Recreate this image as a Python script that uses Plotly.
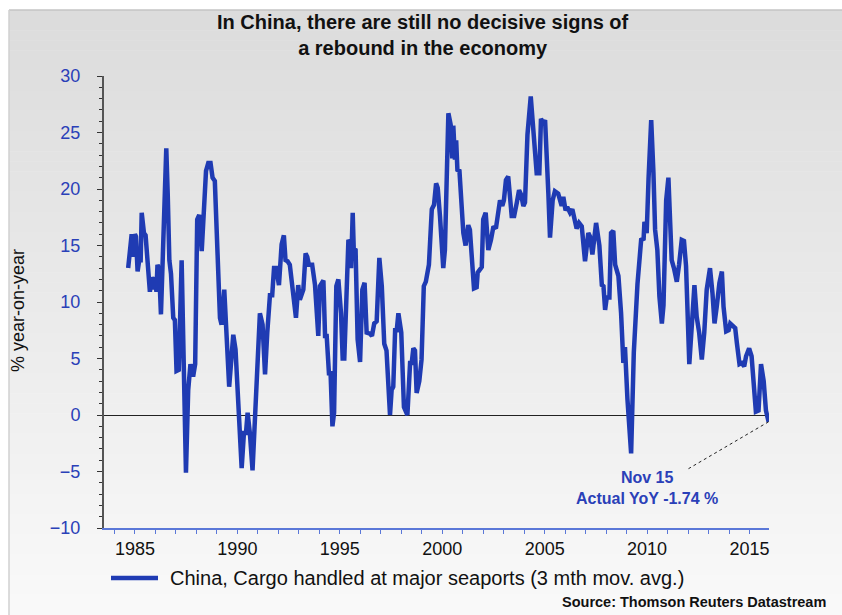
import plotly.graph_objects as go

# China, cargo handled at major seaports, % y/y (3 month moving average), decimal year
years = [
    1984.67, 1984.72, 1984.84, 1984.92, 1985.00, 1985.05, 1985.13, 1985.21, 1985.28, 1985.33,
    1985.44, 1985.52, 1985.62, 1985.73, 1985.81, 1985.89, 1985.97, 1986.05, 1986.10, 1986.18,
    1986.27, 1986.37, 1986.53, 1986.60, 1986.68, 1986.76, 1986.87, 1986.95, 1987.03, 1987.14,
    1987.28, 1987.49, 1987.60, 1987.71, 1987.84, 1987.94, 1988.04, 1988.14, 1988.26, 1988.47,
    1988.58, 1988.69, 1988.79, 1988.90, 1989.15, 1989.23, 1989.36, 1989.60, 1989.80, 1989.91,
    1990.21, 1990.32, 1990.42, 1990.50, 1990.61, 1990.74, 1990.90, 1991.10, 1991.23, 1991.35,
    1991.46, 1991.59, 1991.70, 1991.79, 1991.89, 1992.03, 1992.16, 1992.27, 1992.35, 1992.45,
    1992.56, 1992.72, 1992.86, 1992.97, 1993.05, 1993.22, 1993.33, 1993.41, 1993.49, 1993.65,
    1993.79, 1993.95, 1994.03, 1994.20, 1994.28, 1994.36, 1994.47, 1994.55, 1994.64, 1994.72,
    1994.83, 1994.93, 1995.06, 1995.14, 1995.22, 1995.42, 1995.49, 1995.55, 1995.63, 1995.68,
    1995.77, 1995.87, 1995.99, 1996.10, 1996.21, 1996.31, 1996.47, 1996.57, 1996.68, 1996.80,
    1996.93, 1997.05, 1997.17, 1997.28, 1997.45, 1997.53, 1997.61, 1997.70, 1997.78, 1997.86,
    1998.00, 1998.13, 1998.30, 1998.43, 1998.51, 1998.59, 1998.67, 1998.75, 1998.88, 1998.99,
    1999.10, 1999.20, 1999.27, 1999.35, 1999.49, 1999.60, 1999.70, 1999.78, 1999.89, 2000.05,
    2000.13, 2000.30, 2000.41, 2000.49, 2000.54, 2000.62, 2000.68, 2000.74, 2000.84, 2001.03,
    2001.14, 2001.27, 2001.35, 2001.47, 2001.55, 2001.68, 2001.73, 2001.93, 2002.00, 2002.12,
    2002.25, 2002.38, 2002.50, 2002.62, 2002.74, 2002.82, 2002.93, 2003.01, 2003.11, 2003.22,
    2003.39, 2003.51, 2003.64, 2003.75, 2003.85, 2003.96, 2004.04, 2004.16, 2004.32, 2004.45,
    2004.61, 2004.74, 2004.82, 2004.94, 2005.02, 2005.18, 2005.26, 2005.39, 2005.50, 2005.66,
    2005.83, 2005.91, 2006.02, 2006.10, 2006.24, 2006.35, 2006.48, 2006.56, 2006.68, 2006.81,
    2006.97, 2007.13, 2007.21, 2007.33, 2007.51, 2007.67, 2007.79, 2007.87, 2007.95, 2008.03,
    2008.16, 2008.24, 2008.35, 2008.44, 2008.60, 2008.73, 2008.84, 2008.92, 2009.04, 2009.22,
    2009.35, 2009.53, 2009.71, 2009.83, 2009.87, 2009.98, 2010.07, 2010.20, 2010.31, 2010.39,
    2010.50, 2010.60, 2010.72, 2010.80, 2010.93, 2011.04, 2011.12, 2011.20, 2011.31, 2011.45,
    2011.56, 2011.69, 2011.80, 2011.90, 2012.06, 2012.18, 2012.31, 2012.42, 2012.54, 2012.67,
    2012.79, 2012.91, 2013.07, 2013.19, 2013.29, 2013.40, 2013.53, 2013.65, 2013.73, 2013.86,
    2013.98, 2014.06, 2014.19, 2014.30, 2014.38, 2014.51, 2014.62, 2014.74, 2014.83, 2014.98,
    2015.10, 2015.20, 2015.31, 2015.44, 2015.56, 2015.69, 2015.80, 2015.93,
]
cargo_yoy = [
    13.0, 14.0, 16.0, 14.0, 16.0, 15.8, 12.7, 13.7, 13.7, 17.9,
    16.1, 15.9, 13.0, 10.9, 12.2, 11.1, 12.2, 10.9, 13.3, 12.9,
    8.9, 14.6, 23.6, 19.6, 13.7, 12.5, 8.6, 8.4, 3.9, 4.0,
    13.7, -5.1, 2.2, 4.5, 3.4, 4.5, 17.3, 17.7, 14.5, 21.6,
    22.3, 22.3, 21.0, 20.7, 8.6, 8.0, 11.1, 2.5, 7.1, 5.8,
    -4.7, -1.6, -1.6, 0.2, -1.6, -4.9, 1.0, 9.0, 8.0, 3.6,
    7.3, 10.6, 10.6, 13.0, 13.0, 11.5, 15.1, 15.9, 13.7, 13.6,
    13.3, 10.8, 8.6, 11.5, 10.2, 11.1, 14.3, 14.0, 13.3, 13.3,
    11.5, 7.0, 11.4, 11.9, 7.0, 7.0, 3.7, 3.7, -1.0, 0.2,
    11.4, 12.0, 9.0, 5.0, 5.0, 15.5, 15.3, 13.0, 17.9, 14.7,
    14.6, 6.7, 4.7, 11.1, 11.7, 7.3, 7.2, 7.0, 8.1, 8.3,
    13.9, 11.4, 6.3, 5.7, 0.0, 2.2, 2.5, 7.5, 7.5, 9.0,
    7.3, 0.7, 0.0, 4.6, 4.6, 5.9, 5.7, 1.95, 3.0, 4.9,
    11.4, 11.8, 12.6, 13.3, 18.2, 18.6, 20.5, 20.1, 17.6, 13.0,
    14.6, 26.7, 25.7, 22.7, 25.6, 22.6, 24.3, 21.7, 21.6, 16.1,
    15.0, 16.8, 16.4, 12.6, 11.2, 11.3, 12.6, 13.1, 17.3, 17.9,
    14.6, 15.5, 16.7, 16.5, 17.7, 19.0, 18.5, 19.0, 20.8, 21.1,
    17.6, 17.6, 18.8, 19.9, 19.5, 18.5, 18.8, 24.8, 28.2, 25.2,
    21.4, 21.4, 26.2, 25.8, 26.1, 19.6, 15.7, 19.0, 19.8, 19.6,
    18.5, 19.3, 18.1, 18.4, 17.9, 18.2, 17.2, 16.5, 17.0, 16.7,
    13.6, 16.1, 15.8, 14.2, 17.0, 15.0, 11.5, 11.4, 9.3, 10.4,
    10.4, 16.1, 16.3, 13.3, 12.3, 9.0, 4.6, 6.0, 1.4, -3.4,
    5.5, 11.6, 15.5, 15.6, 17.1, 16.1, 20.9, 26.1, 21.4, 16.4,
    14.6, 10.5, 8.1, 9.7, 19.0, 21.0, 17.3, 13.7, 13.0, 11.8,
    13.3, 15.5, 15.4, 13.2, 4.5, 8.4, 11.5, 8.7, 7.3, 4.9,
    7.3, 11.1, 13.0, 10.8, 8.1, 9.6, 11.7, 12.7, 9.6, 7.4,
    7.5, 8.1, 7.8, 7.7, 6.4, 4.5, 4.6, 4.3, 5.2, 5.9,
    5.2, 2.7, 0.3, 0.4, 4.5, 3.0, 0.4, -0.6,
]

x_ticks = [1985, 1990, 1995, 2000, 2005, 2010, 2015]
y_ticks = [-10, -5, 0, 5, 10, 15, 20, 25, 30]

title_text = "In China, there are still no decisive signs of<br>a rebound in the economy"
series_name = "China, Cargo handled at major seaports (3 mth mov. avg.)"
callout_text = "Nov 15<br>Actual YoY -1.74 %"
source_text = "Source: Thomson Reuters Datastream"

W, H = 842, 615
ML, MR, MT, MB = 104, 73, 76, 87
PW, PH = W - ML - MR, H - MT - MB

LINE_BLUE = "#1f3bb3"
TEXT_BLUE = "#2a40b8"


def px_x(p):
    """pixel column -> paper x"""
    return (p - ML) / PW


def px_y(p):
    """pixel row (from top) -> paper y"""
    return (H - MB - p) / PH


fig = go.Figure()
fig.add_trace(go.Scatter(
    x=years, y=cargo_yoy, mode="lines", name=series_name,
    line=dict(color=LINE_BLUE, width=4.5), showlegend=False,
))

shapes = []
# grey panel with a soft vertical gradient
top_px, bot_px, left_px = 10, H, 9
n_bands = 60
for i in range(n_bands):
    y0 = top_px + (bot_px - top_px) * i / n_bands
    y1 = top_px + (bot_px - top_px) * (i + 1) / n_bands
    t = i / (n_bands - 1)
    g = round(220 + (249 - 220) * t)
    shapes.append(dict(
        type="rect", xref="paper", yref="paper", layer="below",
        x0=px_x(left_px), x1=px_x(W + 2), y0=px_y(y1 + 0.5), y1=px_y(y0),
        fillcolor=f"rgb({g},{g},{g})", line=dict(width=0),
    ))
# panel edges
shapes.append(dict(type="line", xref="paper", yref="paper", layer="below",
                   x0=px_x(left_px), x1=px_x(W + 2), y0=px_y(top_px), y1=px_y(top_px),
                   line=dict(color="#c4c4c4", width=1.5)))
shapes.append(dict(type="line", xref="paper", yref="paper", layer="below",
                   x0=px_x(left_px), x1=px_x(left_px), y0=px_y(top_px), y1=px_y(H + 2),
                   line=dict(color="#d0d0d0", width=1.5)))

# dotted leader from the last observation to the callout
callout_x, callout_y = 2012.02, -4.75
shapes.append(dict(type="line", xref="x", yref="y",
                   x0=years[-1], y0=cargo_yoy[-1], x1=callout_x, y1=callout_y,
                   line=dict(color="#222222", width=1, dash="dot")))

# legend sample line
shapes.append(dict(type="line", xref="paper", yref="paper",
                   x0=px_x(111), x1=px_x(158), y0=px_y(578), y1=px_y(578),
                   line=dict(color=LINE_BLUE, width=4.5)))

annotations = [
    dict(text=title_text, xref="paper", yref="paper", x=px_x(423), y=px_y(35),
         xanchor="center", yanchor="middle", showarrow=False,
         font=dict(family="Liberation Sans, Arial", size=20, color="#111111", weight="bold")),
    dict(text="% year-on-year", xref="paper", yref="paper", x=px_x(18), y=px_y(311),
         xanchor="center", yanchor="middle", textangle=-90, showarrow=False,
         font=dict(family="Liberation Sans, Arial", size=18, color="#111111")),
    dict(text=callout_text, xref="x", yref="y", x=2009.98, y=-6.43,
         xanchor="center", yanchor="middle", showarrow=False,
         font=dict(family="Liberation Sans, Arial", size=16, color=TEXT_BLUE, weight="bold")),
    dict(text=series_name, xref="paper", yref="paper", x=px_x(168), y=px_y(578),
         xanchor="left", yanchor="middle", showarrow=False,
         font=dict(family="Liberation Sans, Arial", size=20, color="#111111")),
    dict(text=source_text, xref="paper", yref="paper", x=px_x(828), y=px_y(602),
         xanchor="right", yanchor="middle", showarrow=False,
         font=dict(family="Liberation Sans, Arial", size=14.5, color="#111111", weight="bold")),
]

fig.update_layout(
    width=W, height=H,
    margin=dict(l=ML, r=MR, t=MT, b=MB),
    paper_bgcolor="white", plot_bgcolor="rgba(0,0,0,0)",
    shapes=shapes, annotations=annotations, showlegend=False,
    font=dict(family="Liberation Sans, Arial"),
    xaxis=dict(
        range=[1983.49, 2015.95], tickvals=x_ticks, ticktext=[str(v) for v in x_ticks],
        showgrid=False, zeroline=False,
        showline=True, linecolor="#5b78d8", linewidth=1.5,
        ticks="outside", ticklen=4, tickcolor="#5b78d8", tickwidth=1,
        minor=dict(dtick=1, tick0=1985, ticks="outside", ticklen=4, tickcolor="#5b78d8"),
        tickfont=dict(size=18, color="#111111"),
    ),
    yaxis=dict(
        range=[-10, 30], tickvals=y_ticks,
        showgrid=False, zeroline=True, zerolinecolor="#222222", zerolinewidth=1,
        showline=True, linecolor="#555555", linewidth=2,
        ticks="outside", ticklen=5, tickcolor="#333333", tickwidth=1,
        minor=dict(dtick=1, tick0=0, ticks="outside", ticklen=3, tickcolor="#333333"),
        tickfont=dict(size=18, color=TEXT_BLUE), ticklabelstandoff=13,
    ),
)

fig.write_html("out.html")
